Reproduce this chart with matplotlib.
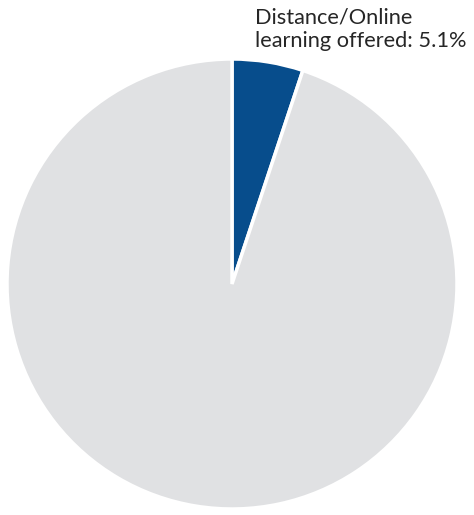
import matplotlib.pyplot as plt

# share of institutions, percent
labels = ["Distance/Online learning offered", "Not offered"]
values = [5.1, 94.9]
colors = ["#074d8c", "#e0e1e3"]

fig = plt.figure(figsize=(4.74, 5.15), dpi=100)
ax = fig.add_axes([7 / 474, 6 / 515, 450 / 474, 450 / 515])

ax.pie(values, colors=colors, startangle=90, counterclock=False,
       wedgeprops=dict(edgecolor="white", linewidth=2.5))
ax.set_xlim(-1.0, 1.0)
ax.set_ylim(-1.0, 1.0)

fig.text(255 / 474, 1 - 8 / 515, f"Distance/Online\nlearning offered: {values[0]}%",
         ha="left", va="top", fontsize=15.7, family="Lato",
         color="#262626", linespacing=1.2)

fig.savefig("out.png", dpi=100)
